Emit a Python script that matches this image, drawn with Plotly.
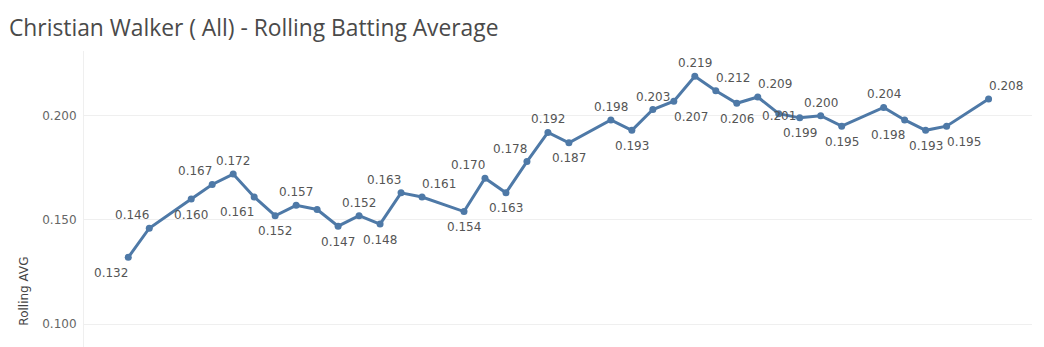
import plotly.graph_objects as go

# ---- data ----
game_index = [0, 1, 3, 4, 5, 6, 7, 8, 9, 10, 11, 12, 13, 14, 16, 17, 18, 19, 20, 21,
              23, 24, 25, 26, 27, 28, 29, 30, 31, 32, 33, 34, 36, 37, 38, 39, 41]
rolling_avg = [0.132, 0.146, 0.160, 0.167, 0.172, 0.161, 0.152, 0.157, 0.155, 0.147,
               0.152, 0.148, 0.163, 0.161, 0.154, 0.170, 0.163, 0.178, 0.192, 0.187,
               0.198, 0.193, 0.203, 0.207, 0.219, 0.212, 0.206, 0.209, 0.201, 0.199,
               0.200, 0.195, 0.204, 0.198, 0.193, 0.195, 0.208]
y_ticks = [0.100, 0.150, 0.200]

# label placement (style): t/b/m = above/below/middle, l/c/r = left/center/right, None = hidden
label_pos = ["bl", "tl", "bc", "tl", "tc", "bl", "bc", "tc", None, "bc",
             "tc", "bc", "tl", "tr", "bc", "tl", "bc", "tl", "tc", "bc",
             "tc", "bc", "tc", "br", "tc", "tr", "bc", "tr", "mc", "bc",
             "tc", "bc", "tc", "bl", "bc", "br", "tr"]

LINE_COLOR = "#4e79a7"
FONT = "DejaVu Sans"

fig = go.Figure()
fig.add_trace(go.Scatter(
    x=game_index, y=rolling_avg, mode="lines+markers",
    line=dict(color=LINE_COLOR, width=3),
    marker=dict(color=LINE_COLOR, size=7),
    hoverinfo="skip", showlegend=False,
))

annotations = []
for xi, v, pos in zip(game_index, rolling_avg, label_pos):
    if pos is None:
        continue
    vert, horiz = pos[0], pos[1]
    yshift = {"t": 13, "b": -15.5, "m": -2}[vert]
    xanchor = {"l": "right", "c": "center", "r": "left"}[horiz]
    xshift = {"l": 2, "c": 0, "r": -2}[horiz]
    annotations.append(dict(
        x=xi, y=v, xref="x", yref="y", text=f"{v:.3f}", showarrow=False,
        xanchor=xanchor, yanchor="middle", xshift=xshift, yshift=yshift,
        font=dict(family=FONT, size=12, color="#555555"),
    ))

annotations.append(dict(
    x=0, y=0.187, xref="paper", yref="paper", text="Rolling AVG", showarrow=False,
    textangle=-90, xanchor="center", yanchor="middle", xshift=-60,
    font=dict(family=FONT, size=12, color="#444444"),
))

fig.update_layout(
    width=1044, height=347,
    margin=dict(l=84, r=12, t=51, b=0),
    paper_bgcolor="white", plot_bgcolor="white",
    title=dict(text="Christian Walker ( All) - Rolling Batting Average",
               x=9 / 1044, xanchor="left", xref="container",
               y=1 - 28.5 / 347, yanchor="middle", yref="container",
               font=dict(family="Open Sans", size=22.8, color="#4a4a4a")),
    annotations=annotations,
    xaxis=dict(range=[-2.11, 43.07], showgrid=False, zeroline=False,
               showticklabels=False, showline=False, ticks=""),
    yaxis=dict(range=[0.08896, 0.2311], tickvals=y_ticks, tickformat=".3f",
               showgrid=True, gridcolor="#efefef", gridwidth=1, zeroline=False,
               showline=True, linecolor="#efefef", linewidth=1,
               ticks="outside", ticklen=4, tickcolor="rgba(0,0,0,0)",
               tickfont=dict(family=FONT, size=12, color="#666666")),
)

fig.write_html("out.html")
